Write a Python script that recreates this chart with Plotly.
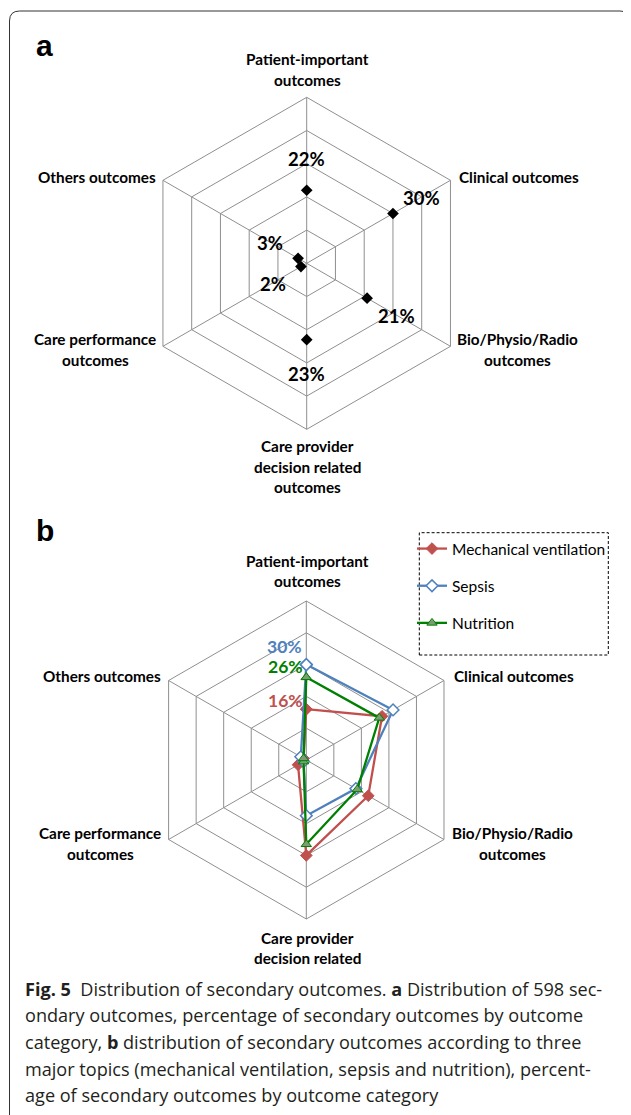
import plotly.graph_objects as go

W, H = 631, 1115
OFF = 8  # the page body adds an 8px margin; positions below are in reference pixels

# ---------------- data ----------------
categories = [
    "Patient-important outcomes",
    "Clinical outcomes",
    "Bio/Physio/Radio outcomes",
    "Care provider decision related outcomes",
    "Care performance outcomes",
    "Others outcomes",
]
labels_a = [
    ["Patient-important", "outcomes"],
    ["Clinical outcomes"],
    ["Bio/Physio/Radio", "outcomes"],
    ["Care provider", "decision related", "outcomes"],
    ["Care performance", "outcomes"],
    ["Others outcomes"],
]
labels_b = [
    ["Patient-important", "outcomes"],
    ["Clinical outcomes"],
    ["Bio/Physio/Radio", "outcomes"],
    ["Care provider", "decision related"],
    ["Care performance", "outcomes"],
    ["Others outcomes"],
]

overall_pct = [22, 30, 21, 23, 2, 3]

series_names = ["Mechanical ventilation", "Sepsis", "Nutrition"]
mech_vent_pct = [16, 27.5, 22.5, 30, 3, 1]
sepsis_pct = [30, 31.5, 18, 17.5, 1, 2]
nutrition_pct = [26, 26.5, 18.5, 26.5, 1, 1]

caption_lines = [
    "<b>Fig. 5</b>\u00a0 Distribution of secondary outcomes. <b>a</b> Distribution of 598 sec-",
    "ondary outcomes, percentage of secondary outcomes by outcome",
    "category, <b>b</b> distribution of secondary outcomes according to three",
    "major topics (mechanical ventilation, sepsis and nutrition), percent-",
    "age of secondary outcomes by outcome category",
]

# ---------------- styling ----------------
GRID = "#8f8f8f"
RED = "#C0504D"
BLUE = "#4F81BD"
GREEN = "#008000"
LABEL_FONT = "Lato"
LABEL_SIZE = 15.3


def px(x):
    return (x - OFF) / W


def py(y):
    return 1 - (y - OFF) / H


def domain(cx, cy, r):
    return dict(x=[px(cx - r), px(cx + r)], y=[py(cy + r), py(cy - r)])


def polar(cx, cy, r):
    return dict(
        domain=domain(cx, cy, r),
        bgcolor="white",
        gridshape="linear",
        radialaxis=dict(range=[0, 50], tickvals=[10, 20, 30, 40, 50],
                        showticklabels=False, ticks="", showline=False,
                        gridcolor=GRID, gridwidth=1),
        angularaxis=dict(rotation=90, direction="clockwise", type="category",
                         categoryorder="array", categoryarray=categories,
                         showticklabels=False, ticks="", showline=True,
                         linecolor=GRID, linewidth=1, gridcolor=GRID, gridwidth=1),
    )


fig = go.Figure()

# panel a
fig.add_trace(go.Scatterpolar(
    r=overall_pct, theta=categories, mode="markers",
    marker=dict(symbol="diamond", size=9, color="black"),
    showlegend=False, subplot="polar", name="All trials"))

# panel b
closed = lambda v: list(v) + [v[0]]
theta_closed = categories + [categories[0]]
fig.add_trace(go.Scatterpolar(
    r=closed(mech_vent_pct), theta=theta_closed, mode="lines+markers",
    name=series_names[0], legendgroup="g1",
    line=dict(color=RED, width=2.3),
    marker=dict(symbol="diamond", size=9, color=RED, line=dict(color=RED, width=1)),
    subplot="polar2"))
fig.add_trace(go.Scatterpolar(
    r=closed(sepsis_pct), theta=theta_closed, mode="lines+markers",
    name=series_names[1], legendgroup="g2",
    line=dict(color=BLUE, width=2.3),
    marker=dict(symbol="diamond", size=9, color="white", line=dict(color=BLUE, width=1.5)),
    subplot="polar2"))
fig.add_trace(go.Scatterpolar(
    r=closed(nutrition_pct), theta=theta_closed, mode="lines+markers",
    name=series_names[2], legendgroup="g3",
    line=dict(color=GREEN, width=2.3),
    marker=dict(symbol="triangle-up", size=9, color="#7E9C74", line=dict(color=GREEN, width=1)),
    subplot="polar2"))

annotations = []


def text_at(x, y, text, size=LABEL_SIZE, color="black", xanchor="center", family=LABEL_FONT):
    annotations.append(dict(x=px(x), y=py(y), xref="paper", yref="paper", text=text,
                            showarrow=False, xanchor=xanchor, yanchor="middle",
                            font=dict(family=family, size=size, color=color)))


def block(lines, x, y0, spacing, xanchor="center"):
    for i, s in enumerate(lines):
        text_at(x, y0 + i * spacing, "<b>%s</b>" % s, xanchor=xanchor)


SP = 20.5
# panel a axis labels
block(labels_a[0], 307.5, 59.3, SP)
block(labels_a[1], 457, 176.7, SP, "left")
block(labels_a[2], 517, 339.3, SP)
block(labels_a[3], 307.5, 446, SP)
block(labels_a[4], 95, 339.3, SP)
block(labels_a[5], 158, 176.7, SP, "right")

# panel b axis labels
block(labels_b[0], 307.5, 560.7, SP)
block(labels_b[1], 451.5, 676, SP, "left")
block(labels_b[2], 512.5, 833.3, SP)
block(labels_b[3], 307.5, 937.7, SP)
block(labels_b[4], 100, 833.3, SP)
block(labels_b[5], 162.6, 676, SP, "right")

# panel a data labels
pos_a = [(306.7, 159.3), (421.7, 198.3), (396.7, 316), (306.7, 374.3), (272.7, 284), (270, 243.3)]
for v, (x, y) in zip(overall_pct, pos_a):
    text_at(x, y, "<b>%d%%</b>" % v, size=18.5)

# panel b data labels (patient-important axis)
text_at(284.3, 646.7, "<b>%d%%</b>" % sepsis_pct[0], size=17.5, color=BLUE)
text_at(285, 666.7, "<b>%d%%</b>" % nutrition_pct[0], size=17.5, color=GREEN)
text_at(285, 700, "<b>%d%%</b>" % mech_vent_pct[0], size=17.5, color=RED)

# panel letters
text_at(44, 45, "<b>a</b>", size=30, family="Liberation Sans")
text_at(45, 530, "<b>b</b>", size=30, family="Liberation Sans")

# caption
for i, line in enumerate(caption_lines):
    text_at(22.7, 988.5 + i * 26.7, line, size=18.1, color="#231F20", xanchor="left",
            family="Open Sans")

# shapes: rounded frame + dashed legend box
x0, x1, y0, y1, r = 9.5, 630, 11, 1125, 10
frame = (f"M {px(x0 + r)},{py(y0)} L {px(x1 - r)},{py(y0)} "
         f"Q {px(x1)},{py(y0)} {px(x1)},{py(y0 + r)} L {px(x1)},{py(y1 - r)} "
         f"Q {px(x1)},{py(y1)} {px(x1 - r)},{py(y1)} L {px(x0 + r)},{py(y1)} "
         f"Q {px(x0)},{py(y1)} {px(x0)},{py(y1 - r)} L {px(x0)},{py(y0 + r)} "
         f"Q {px(x0)},{py(y0)} {px(x0 + r)},{py(y0)} Z")
shapes = [
    dict(type="path", path=frame, xref="paper", yref="paper",
         line=dict(color="#333333", width=1)),
    dict(type="rect", xref="paper", yref="paper", x0=px(419.3), x1=px(608.3),
         y0=py(655), y1=py(532.7), line=dict(color="black", width=1, dash="3px,2px")),
]

fig.update_layout(
    width=W, height=H,
    margin=dict(l=0, r=0, t=0, b=0),
    paper_bgcolor="white",
    polar=polar(306.7, 263.3, 166),
    polar2=polar(306.3, 760, 159),
    showlegend=True,
    legend=dict(x=px(412), y=py(532), xanchor="left", yanchor="top",
                bgcolor="rgba(0,0,0,0)", borderwidth=0,
                font=dict(family=LABEL_FONT, size=15.5, color="black"),
                tracegroupgap=14, itemwidth=30),
    annotations=annotations,
    shapes=shapes,
)

fig.write_html("out.html")
